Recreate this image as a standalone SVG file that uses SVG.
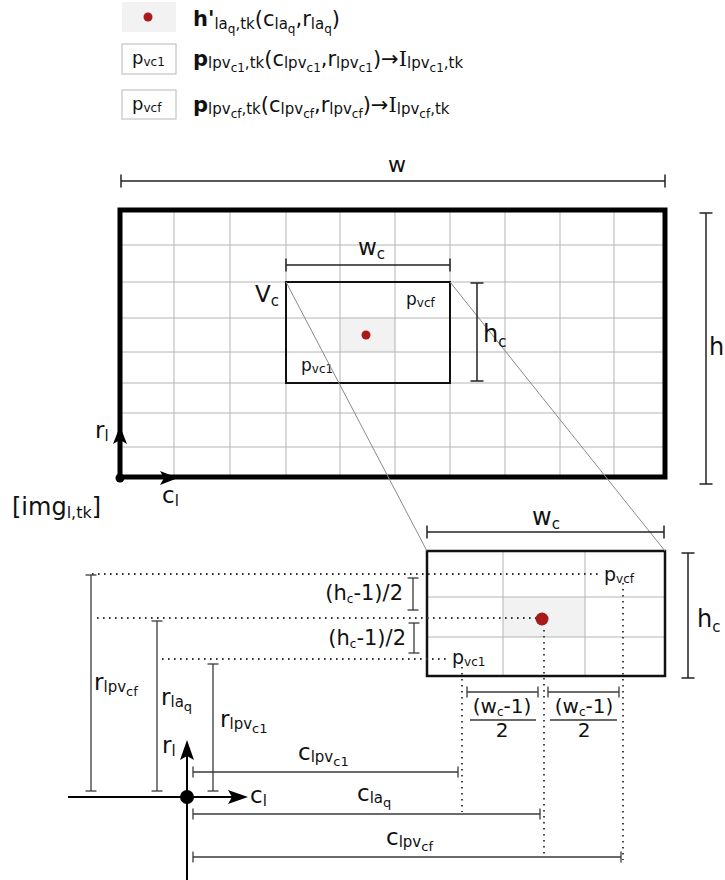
<svg xmlns="http://www.w3.org/2000/svg" width="725" height="880" viewBox="0 0 725 880">
<style>
text { font-family: "DejaVu Sans", "Liberation Sans", sans-serif; fill: #111; }
.s { font-size: 15px; }
.ss { font-size: 12px; }
.grid { stroke: #b4b4b4; stroke-width: 1; fill: none; }
.hl { fill: #f2f2f2; }
.dot { fill: #a8191c; }
.dim { stroke: #222; stroke-width: 1.5; fill: none; marker-start: url(#tk); marker-end: url(#tk); }
.dimS { stroke: #3a3a3a; stroke-width: 1.3; fill: none; marker-start: url(#tkS); marker-end: url(#tkS); }
.dotted { stroke: #333; stroke-width: 1.8; stroke-dasharray: 1.6 4.4; fill: none; }
.diag { stroke: #8a8a8a; stroke-width: 1; fill: none; }
.axis { stroke: #000; fill: none; }
.legbox { fill: #fff; stroke: #c4c4c4; stroke-width: 1.2; }
</style>
<defs>
<marker id="tk" markerUnits="userSpaceOnUse" orient="auto" markerWidth="2" markerHeight="16" refX="0" refY="0" style="overflow:visible"><path d="M0,-6.5V6.5" stroke="#222" stroke-width="1.5"/></marker>
<marker id="tkS" markerUnits="userSpaceOnUse" orient="auto" markerWidth="2" markerHeight="14" refX="0" refY="0" style="overflow:visible"><path d="M0,-5.5V5.5" stroke="#3a3a3a" stroke-width="1.3"/></marker>
</defs>

<!-- Legend -->
<g id="legend-h">
<rect class="hl" x="122" y="2" width="54" height="30"/>
<circle class="dot" cx="148" cy="17" r="4.5"/>
<text x="193" y="26" font-size="21"><tspan font-weight="bold">h'</tspan><tspan class="s" dy="3">la</tspan><tspan class="ss" dy="4">q</tspan><tspan class="s" dy="-4">,tk</tspan><tspan dy="-3">(c</tspan><tspan class="s" dy="3">la</tspan><tspan class="ss" dy="4">q</tspan><tspan dy="-7">,r</tspan><tspan class="s" dy="3">la</tspan><tspan class="ss" dy="4">q</tspan><tspan dy="-7">)</tspan></text>
</g>
<g id="legend-pvc1">
<rect class="legbox" x="122" y="44" width="54" height="30"/>
<text x="132" y="64" font-size="18">p<tspan font-size="12" dy="2">vc1</tspan></text>
<text x="193" y="66" font-size="21"><tspan font-weight="bold">p</tspan><tspan class="s" dy="2">lpv</tspan><tspan class="ss" dy="4">c1</tspan><tspan class="s" dy="-4">,tk</tspan><tspan dy="-2">(c</tspan><tspan class="s" dy="2">lpv</tspan><tspan class="ss" dy="4">c1</tspan><tspan dy="-6">,r</tspan><tspan class="s" dy="2">lpv</tspan><tspan class="ss" dy="4">c1</tspan><tspan dy="-6">)→</tspan><tspan font-family="DejaVu Serif, serif">I</tspan><tspan class="s" dy="2">lpv</tspan><tspan class="ss" dy="4">c1</tspan><tspan class="s" dy="-4">,tk</tspan></text>
</g>
<g id="legend-pvcf">
<rect class="legbox" x="122" y="90" width="54" height="29"/>
<text x="132" y="110" font-size="18">p<tspan font-size="12" dy="2">vcf</tspan></text>
<text x="193" y="112" font-size="21"><tspan font-weight="bold">p</tspan><tspan class="s" dy="2">lpv</tspan><tspan class="ss" dy="4">cf</tspan><tspan class="s" dy="-4">,tk</tspan><tspan dy="-2">(c</tspan><tspan class="s" dy="2">lpv</tspan><tspan class="ss" dy="4">cf</tspan><tspan dy="-6">,r</tspan><tspan class="s" dy="2">lpv</tspan><tspan class="ss" dy="4">cf</tspan><tspan dy="-6">)→</tspan><tspan font-family="DejaVu Serif, serif">I</tspan><tspan class="s" dy="2">lpv</tspan><tspan class="ss" dy="4">cf</tspan><tspan class="s" dy="-4">,tk</tspan></text>
</g>

<!-- Top image grid -->
<g id="image-grid">
<rect x="120" y="210" width="545" height="267" fill="#fff"/>
<rect class="hl" x="340" y="318" width="55" height="34"/>
<path class="grid" d="M174 210V477M230 210V477M286 210V477M340 210V477M395 210V477M450 210V477M505 210V477M560 210V477M614 210V477M120 245H665M120 282H665M120 318H665M120 352H665M120 383H665M120 413H665M120 447H665"/>
<rect x="120" y="210" width="545" height="267" fill="none" stroke="#000" stroke-width="5"/>
</g>

<g id="window-vc">
<rect x="286" y="282" width="164" height="101" fill="none" stroke="#111" stroke-width="2"/>
<circle class="dot" cx="366" cy="335" r="4.5"/>
<text x="255" y="302" font-size="23">V<tspan class="s" dy="4">c</tspan></text>
<text x="406" y="305" font-size="17">p<tspan font-size="12" dy="2">vcf</tspan></text>
<text x="301" y="371" font-size="17">p<tspan font-size="12" dy="2">vc1</tspan></text>
</g>

<!-- Zoomed window -->
<g id="window-zoom">
<rect x="427" y="551" width="238" height="125" fill="#fff"/>
<rect class="hl" x="503" y="597" width="82" height="40"/>
<path class="grid" d="M503 551V676M585 551V676M427 597H665M427 637H665"/>
<rect x="427" y="551" width="238" height="125" fill="none" stroke="#111" stroke-width="2.5"/>
<circle class="dot" cx="542" cy="619" r="6.5"/>
<text x="604" y="581" font-size="19">p<tspan class="ss" dy="2">vcf</tspan></text>
<text x="452" y="664" font-size="19">p<tspan class="ss" dy="2">vc1</tspan></text>
</g>

<!-- Connectors -->
<g id="connectors">
<path class="diag" d="M286 282L427 551M450 282L665 551"/>
<path class="dotted" d="M92 574H598M97 618H536M162 659H446"/>
<path class="dotted" d="M462 667V812M544 630V856M623 583V860"/>
</g>

<!-- Dimensions -->
<g id="dimensions">
<path class="dim" d="M121 181H665"/>
<text x="397" y="172" font-size="22" text-anchor="middle">w</text>
<path class="dim" d="M286 265H450"/>
<text x="358" y="255" font-size="23">w<tspan class="s" dy="4">c</tspan></text>
<path class="dim" d="M477 283V381"/>
<text x="483" y="342" font-size="24">h<tspan class="s" dy="5">c</tspan></text>
<path class="dim" d="M706 213V484"/>
<text x="709" y="355" font-size="24">h</text>
<path class="dim" d="M427 532H664"/>
<text x="532" y="525" font-size="24">w<tspan class="s" dy="4">c</tspan></text>
<path class="dim" d="M688 553V678"/>
<text x="697" y="627" font-size="24">h<tspan class="s" dy="5">c</tspan></text>

<path class="dimS" d="M413 578V610"/>
<text x="403" y="600" font-size="21" text-anchor="end">(h<tspan class="ss" dy="3">c</tspan><tspan dy="-3">-1)/2</tspan></text>
<path class="dimS" d="M414 623V653"/>
<text x="406" y="645" font-size="21" text-anchor="end">(h<tspan class="ss" dy="3">c</tspan><tspan dy="-3">-1)/2</tspan></text>

<path class="dimS" d="M91 575V791"/>
<text x="94" y="690" font-size="23">r<tspan class="s" dy="2">lpv</tspan><tspan font-size="13" dy="4">cf</tspan></text>
<path class="dimS" d="M157 621V791"/>
<text x="161" y="705" font-size="23">r<tspan class="s" dy="2">la</tspan><tspan font-size="13" dy="4">q</tspan></text>
<path class="dimS" d="M213 664V791"/>
<text x="220" y="727" font-size="23">r<tspan class="s" dy="2">lpv</tspan><tspan font-size="13" dy="4">c1</tspan></text>

<path class="dimS" d="M193 772H458"/>
<text x="298" y="760" font-size="23">c<tspan class="s" dy="2">lpv</tspan><tspan font-size="13" dy="4">c1</tspan></text>
<path class="dimS" d="M193 814H540"/>
<text x="357" y="801" font-size="23">c<tspan class="s" dy="2">la</tspan><tspan font-size="13" dy="4">q</tspan></text>
<path class="dimS" d="M193 857H621"/>
<text x="386" y="845" font-size="23">c<tspan class="s" dy="2">lpv</tspan><tspan font-size="13" dy="4">cf</tspan></text>

<path class="dimS" d="M467 692H538"/>
<path class="dimS" d="M548 692H619"/>
<text x="502" y="713" font-size="20" text-anchor="middle">(w<tspan class="ss" dy="3">c</tspan><tspan dy="-3">-1)</tspan></text>
<path d="M470 720H536M550 720H617" stroke="#3a3a3a" stroke-width="1.3"/>
<text x="502" y="737" font-size="20" text-anchor="middle">2</text>
<text x="584" y="713" font-size="20" text-anchor="middle">(w<tspan class="ss" dy="3">c</tspan><tspan dy="-3">-1)</tspan></text>
<text x="584" y="737" font-size="20" text-anchor="middle">2</text>
</g>

<!-- Axes -->
<g id="axes-top">
<polygon points="120,426 113,444 120,440 127,444" fill="#000"/>
<polygon points="178,478 160,471 164,478 160,485" fill="#000"/>
<circle cx="120" cy="478" r="4.5" fill="#000"/>
<text x="95" y="438" font-size="23">r<tspan class="s" dy="3">l</tspan></text>
<text x="162" y="503" font-size="23">c<tspan class="s" dy="3">l</tspan></text>
<text x="12" y="515" font-size="24">[img<tspan font-size="16" dy="3">l,tk</tspan><tspan dy="-3">]</tspan></text>
</g>
<g id="axes-bottom">
<path class="axis" stroke-width="2" d="M187 880V752M68 797H236"/>
<polygon points="187,740 180,760 187,756 194,760" fill="#000"/>
<polygon points="248,797 228,790 232,797 228,804" fill="#000"/>
<circle cx="187" cy="797" r="7" fill="#000"/>
<text x="162" y="753" font-size="23">r<tspan class="s" dy="3">l</tspan></text>
<text x="250" y="803" font-size="23">c<tspan class="s" dy="3">l</tspan></text>
</g>
</svg>
